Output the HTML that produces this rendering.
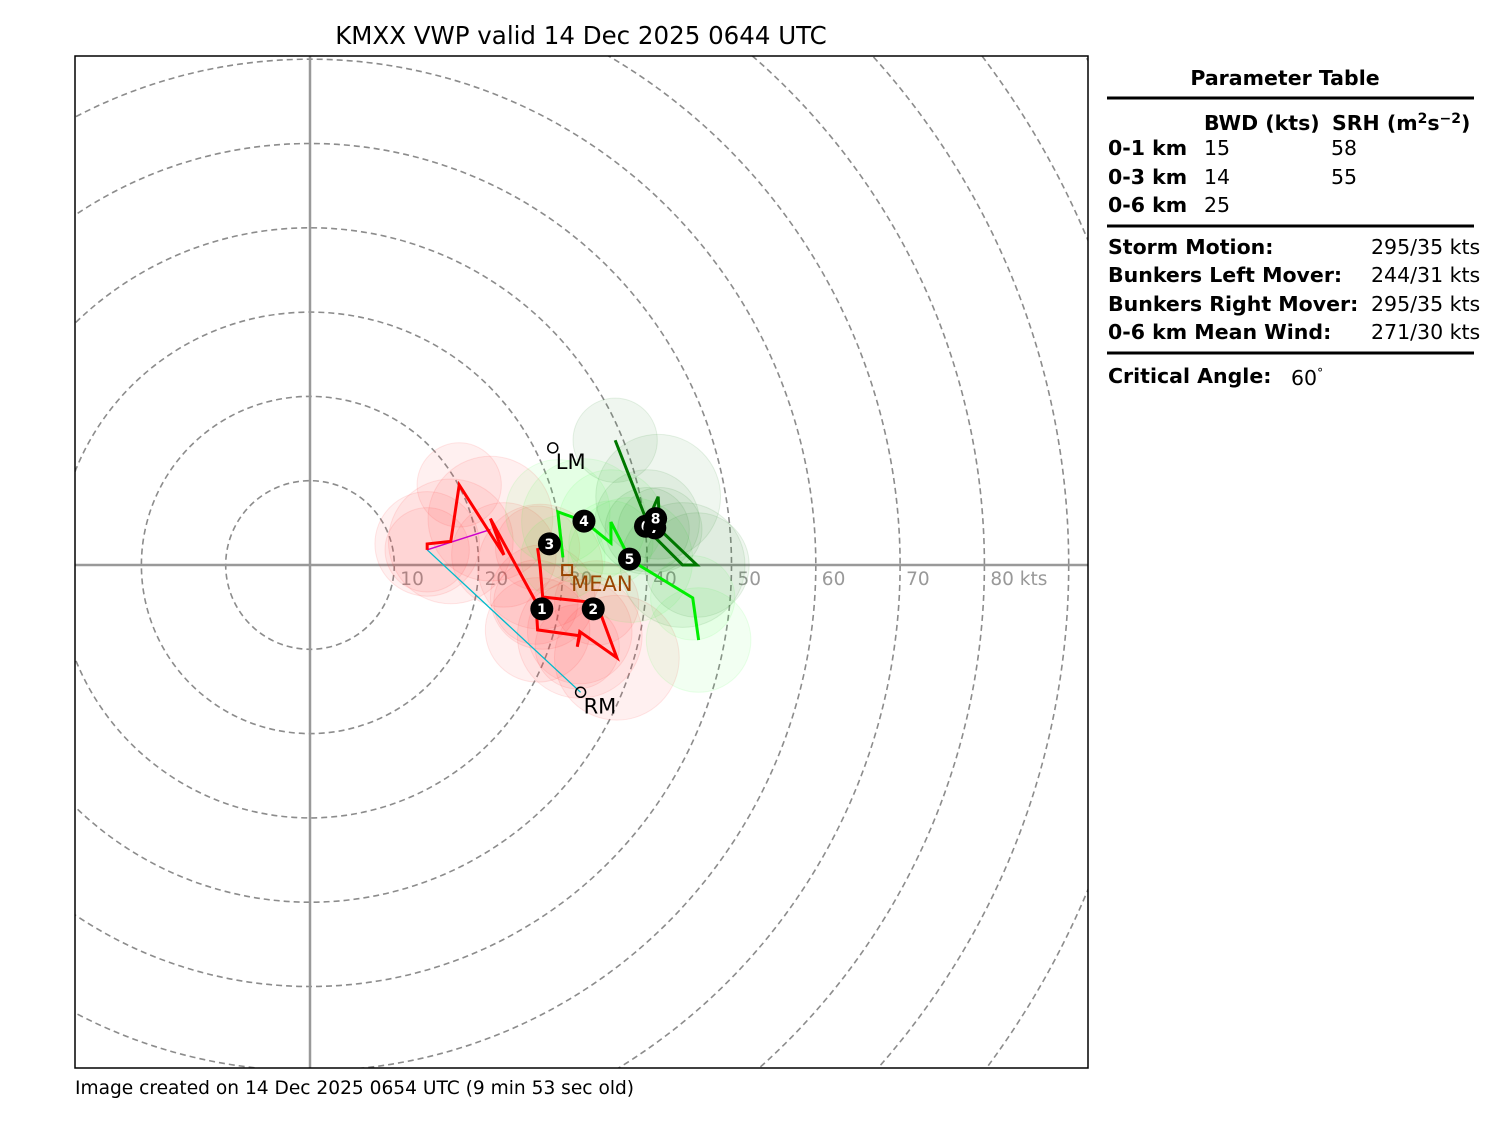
<!DOCTYPE html>
<html><head><meta charset="utf-8"><style>
html,body{margin:0;background:#fff;width:1500px;height:1125px;overflow:hidden;font-family:"DejaVu Sans","Liberation Sans",sans-serif}
svg{position:absolute;left:0;top:0;display:block}
</style></head><body>
<svg id="c" width="1500" height="1125">
<defs><clipPath id="cp"><rect x="75" y="56" width="1013" height="1012"/></clipPath></defs>
<text x="581" y="44" text-anchor="middle" font-size="24.5" font-family="DejaVu Sans, sans-serif">KMXX VWP valid 14 Dec 2025 0644 UTC</text>
<g id="plot" clip-path="url(#cp)"></g>
<rect x="75" y="56" width="1013" height="1012" fill="none" stroke="#000" stroke-width="1.5"/>
<text x="75" y="1094" font-size="18.6" font-family="DejaVu Sans, sans-serif">Image created on 14 Dec 2025 0654 UTC (9 min 53 sec old)</text>
<g font-family="DejaVu Sans, sans-serif" font-size="20.5">
<text x="1285" y="85" text-anchor="middle" font-weight="bold">Parameter Table</text>
<line x1="1107" y1="98" x2="1474" y2="98" stroke="#000" stroke-width="3"/>
<text x="1204" y="130" font-weight="bold">BWD (kts)</text>
<text x="1332" y="130" font-weight="bold">SRH (m<tspan font-size="14" dy="-7">2</tspan><tspan dy="7">s</tspan><tspan font-size="14" dy="-7">−2</tspan><tspan dy="7">)</tspan></text>
<text x="1108" y="155" font-weight="bold">0-1 km</text><text x="1204" y="155">15</text><text x="1331" y="155">58</text>
<text x="1108" y="184" font-weight="bold">0-3 km</text><text x="1204" y="184">14</text><text x="1331" y="184">55</text>
<text x="1108" y="212" font-weight="bold">0-6 km</text><text x="1204" y="212">25</text>
<line x1="1107" y1="226" x2="1474" y2="226" stroke="#000" stroke-width="3"/>
<text x="1108" y="254" font-weight="bold">Storm Motion:</text><text x="1371" y="254">295/35 kts</text>
<text x="1108" y="282" font-weight="bold">Bunkers Left Mover:</text><text x="1371" y="282">244/31 kts</text>
<text x="1108" y="311" font-weight="bold">Bunkers Right Mover:</text><text x="1371" y="311">295/35 kts</text>
<text x="1108" y="339" font-weight="bold">0-6 km Mean Wind:</text><text x="1371" y="339">271/30 kts</text>
<line x1="1107" y1="353" x2="1474" y2="353" stroke="#000" stroke-width="3"/>
<text x="1108" y="383" font-weight="bold">Critical Angle:</text><text x="1291" y="385">60<tspan font-size="12" dy="-8">°</tspan></text>
</g>
</svg>
<script>
const redU=[13.9,13.9,16.7,17.7,23.0,21.4,26.8,27.0,32.0,31.7,32.0,36.4,34.0,27.6,27.3,27.0];
const redV=[1.8,2.5,2.8,9.5,1.2,5.5,-4.4,-7.7,-8.4,-9.7,-7.9,-11.0,-4.5,-3.8,-0.2,2.0];
const greenU=[30.0,29.4,32.5,35.7,35.7,38.0,45.4,46.1];
const greenV=[0.9,6.3,5.2,2.6,5.1,0.6,-3.9,-8.9];
const dgreenU=[36.2,40.0,41.3,41.5,45.9,44.2,40.0];
const dgreenV=[14.8,5.1,8.1,4.2,0.0,0.0,4.2];
const markU=[27.5,33.6,28.4,32.5,37.9,39.8,40.9,41.0];
const markV=[-5.2,-5.2,2.5,5.2,0.7,4.6,4.4,5.5];
const markLabels=["1","2","3","4","5","6","7","8"];
const ringKts=[10,20,30,40,50,60,70,80,90,100,110,120];
const ringLabels=["10","20","30","40","50","60","70","80 kts"];
const meanU=30.5, meanV=-0.6, lmU=28.8, lmV=13.9, rmU=32.1, rmV=-15.1;
const magU=[13.9,21.4], magV=[1.8,4.2];

const OX=310, OY=565, K=8.43;
const sx=u=>OX+u*K, sy=v=>OY-v*K;
const NS="http://www.w3.org/2000/svg";
const g=document.getElementById('plot');
function mk(t,a,p){const e=document.createElementNS(NS,t);for(const k in a)e.setAttribute(k,a[k]);(p||g).appendChild(e);return e;}
ringKts.forEach(r=>{
 const e=mk('circle',{cx:OX,cy:OY,r:r*K,fill:'none',stroke:'#8c8c8c','stroke-width':1.6,'stroke-dasharray':'6,4'});
 
 
});
let a=mk('line',{x1:OX,y1:56,x2:OX,y2:1068,stroke:'#999','stroke-width':2.5});


a=mk('line',{x1:75,y1:OY,x2:1088,y2:OY,stroke:'#999','stroke-width':2.5});


ringLabels.forEach((t,i)=>{
 const e=mk('text',{x:sx(ringKts[i])+6,y:OY+20,fill:'#999','font-size':18.5,'font-family':'DejaVu Sans, sans-serif'});
 e.textContent=t;
 
 
});
function blobs(U,V,col,op,name){U.forEach((u,i)=>{
 const e=mk('circle',{cx:sx(u),cy:sy(V[i]),r:(5+(i%3)*1.2)*K,fill:col,'fill-opacity':op,stroke:col,'stroke-opacity':op*1.5});
 
 
});}
blobs(redU,redV,'#ff4040',0.08,'red-uncertainty');
blobs(greenU,greenV,'#40ff40',0.07,'green-uncertainty');
blobs(dgreenU,dgreenV,'#208020',0.07,'darkgreen-uncertainty');
function path(U,V,col,w,name){
 const e=mk('polyline',{points:U.map((u,i)=>sx(u)+','+sy(V[i])).join(' '),fill:'none',stroke:col,'stroke-width':w,'stroke-linejoin':'miter'});
 
 
}
let l=mk('line',{x1:sx(redU[0]),y1:sy(redV[0]),x2:sx(rmU),y2:sy(rmV),stroke:'#00bbcc','stroke-width':1.3});


path(magU,magV,'#cc00cc',1.5,'shear-vector');
path(redU,redV,'#ff0000',3,'hodo-trace-low');
path(greenU,greenV,'#00ee00',3,'hodo-trace-mid');
path(dgreenU,dgreenV,'#007700',3,'hodo-trace-high');
let m=mk('rect',{x:sx(meanU)-5,y:sy(meanV)-5,width:10,height:10,fill:'none',stroke:'#994400','stroke-width':2});


m=mk('text',{x:sx(meanU)+4,y:sy(meanV)+21,fill:'#994400','font-size':21,'font-family':'DejaVu Sans, sans-serif'});m.textContent='MEAN';


[[lmU,lmV,'LM'],[rmU,rmV,'RM']].forEach(p=>{
 const c=mk('circle',{cx:sx(p[0]),cy:sy(p[1]),r:5,fill:'none',stroke:'#000','stroke-width':1.5});
 
 
 const t=mk('text',{x:sx(p[0])+3,y:sy(p[1])+21,'font-size':21,'font-family':'DejaVu Sans, sans-serif'});t.textContent=p[2];
 
 
});
markU.forEach((u,i)=>{
 const c=mk('circle',{cx:sx(u),cy:sy(markV[i]),r:11.5,fill:'#000'});
 
 
 const t=mk('text',{x:sx(u),y:sy(markV[i])+5,fill:'#fff','font-size':14,'font-weight':'bold','text-anchor':'middle','font-family':'DejaVu Sans, sans-serif'});
 t.textContent=markLabels[i];
 
 
});
</script>
</body></html>
